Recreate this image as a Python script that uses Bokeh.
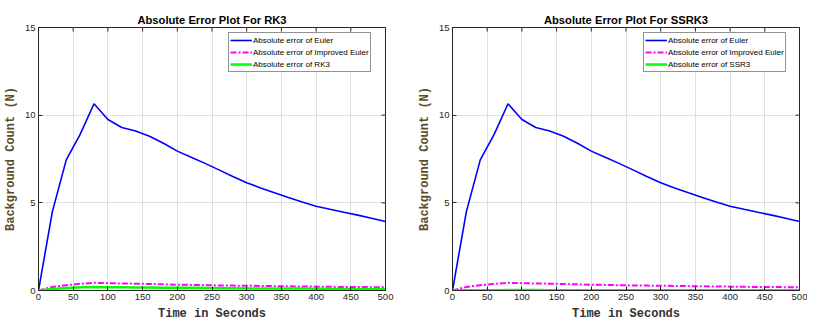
import math
from bokeh.plotting import figure
from bokeh.layouts import row
from bokeh.models import Range1d, Legend, LegendItem, FixedTicker
from bokeh.embed import file_html
from bokeh.resources import INLINE

# ---- data ----
t = [0, 20, 40, 60, 80, 100, 120, 140, 160, 180, 200, 220, 240, 260, 280, 300,
     320, 340, 360, 380, 400, 420, 440, 460, 480, 500]
euler = [0.0, 4.5, 7.45, 8.9, 10.65, 9.75, 9.3, 9.1, 8.8, 8.4, 7.95, 7.6, 7.25,
         6.88, 6.5, 6.15, 5.85, 5.57, 5.3, 5.05, 4.81, 4.63, 4.46, 4.3, 4.12, 3.94]
improved_euler = [0.0, 0.2, 0.3, 0.38, 0.44, 0.42, 0.4, 0.39, 0.37, 0.35, 0.33,
                  0.32, 0.3, 0.29, 0.28, 0.27, 0.26, 0.25, 0.24, 0.23, 0.22,
                  0.21, 0.2, 0.2, 0.19, 0.18]
rk3 = [0.0, 0.08, 0.14, 0.18, 0.2, 0.19, 0.18, 0.17, 0.17, 0.16, 0.15, 0.15,
       0.14, 0.13, 0.13, 0.12, 0.12, 0.11, 0.11, 0.11, 0.1, 0.1, 0.09, 0.09,
       0.09, 0.08]
ssr3 = [0.0, 0.01, 0.02, 0.02, 0.03, 0.03, 0.03, 0.02, 0.02, 0.02, 0.02, 0.02,
        0.02, 0.02, 0.02, 0.02, 0.01, 0.01, 0.01, 0.01, 0.01, 0.01, 0.01, 0.01,
        0.01, 0.01]

x_ticks = [0, 50, 100, 150, 200, 250, 300, 350, 400, 450, 500]
y_ticks = [0, 5, 10, 15]

titles = ["Absolute Error Plot For RK3", "Absolute Error Plot For SSRK3"]
third_names = ["RK3", "SSR3"]
third_series = [rk3, ssr3]

AX = "#262626"
SANS = "Liberation Sans"
MONO = "Liberation Mono"


def make(i, left_border, right_border, legend_x):
    p = figure(output_backend="svg", toolbar_location=None,
               frame_width=347, frame_height=263,
               x_range=Range1d(0, 500), y_range=Range1d(0, 15),
               min_border_left=left_border, min_border_right=right_border,
               min_border_top=27, min_border_bottom=27,
               background_fill_color="white", border_fill_color="white")
    p.title.text = titles[i]
    p.title.align = "center"
    p.title.text_font = SANS
    p.title.text_font_size = "11.2px"
    p.title.text_font_style = "bold"
    p.title.text_color = "black"
    p.title.standoff = 4
    p.title.offset = 0

    p.outline_line_color = AX
    p.outline_line_width = 1

    p.xaxis.ticker = FixedTicker(ticks=x_ticks)
    p.yaxis.ticker = FixedTicker(ticks=y_ticks)
    for ax in (p.xaxis[0], p.yaxis[0]):
        ax.major_tick_in = 4
        ax.major_tick_out = 0
        ax.minor_tick_in = 0
        ax.minor_tick_out = 0
        ax.axis_line_color = AX
        ax.major_tick_line_color = AX
        ax.major_label_text_font = SANS
        ax.major_label_text_font_size = "9.5px"
        ax.major_label_text_color = AX
        ax.major_label_standoff = 3
        ax.axis_label_text_font = MONO
        ax.axis_label_text_font_style = "bold"
        ax.axis_label_text_font_size = "12px"
        ax.axis_label_standoff = 4
    p.xaxis.axis_label = "Time in Seconds"
    p.xaxis.axis_label_text_color = "#333333"
    p.yaxis.axis_label = "Background Count (N)"
    p.yaxis.axis_label_text_color = "#5e4b28"

    # mirrored inward ticks on top and right edges (MATLAB box style)
    p.scatter(x_ticks, [15] * len(x_ticks), marker="dash", size=8,
              angle=math.pi / 2, line_color=AX, line_width=1)
    p.scatter([500] * len(y_ticks), y_ticks, marker="dash", size=8,
              line_color=AX, line_width=1)

    p.xgrid.ticker = FixedTicker(ticks=x_ticks)
    p.ygrid.ticker = FixedTicker(ticks=y_ticks)
    p.grid.grid_line_color = "#dfdfdf"
    p.grid.grid_line_width = 1

    r1 = p.line(t, euler, line_color="#0000ff", line_width=1.6)
    r2 = p.line(t, improved_euler, line_color="#ff00ff", line_width=2,
                line_dash="6 2 2 2")
    r3 = p.line(t, third_series[i], line_color="#00ff00", line_width=2.5)

    legend = Legend(items=[
        LegendItem(label="Absolute error of Euler", renderers=[r1]),
        LegendItem(label="Absolute error of Improved Euler", renderers=[r2]),
        LegendItem(label="Absolute error of " + third_names[i], renderers=[r3]),
    ])
    legend.location = (legend_x, 218)
    legend.margin = 0
    legend.padding = 1
    legend.spacing = 0
    legend.glyph_width = 22
    legend.glyph_height = 12
    legend.label_height = 12
    legend.label_standoff = 1
    legend.label_text_font = SANS
    legend.label_text_font_size = "8px"
    legend.label_text_color = "black"
    legend.border_line_color = AX
    legend.border_line_width = 1
    legend.background_fill_alpha = 1
    p.add_layout(legend, "center")
    return p


p1 = make(0, 30, 23, 190)
p2 = make(1, 44, 8, 191)
layout = row(p1, p2, spacing=0)

open("out.html", "w").write(file_html(layout, INLINE))
